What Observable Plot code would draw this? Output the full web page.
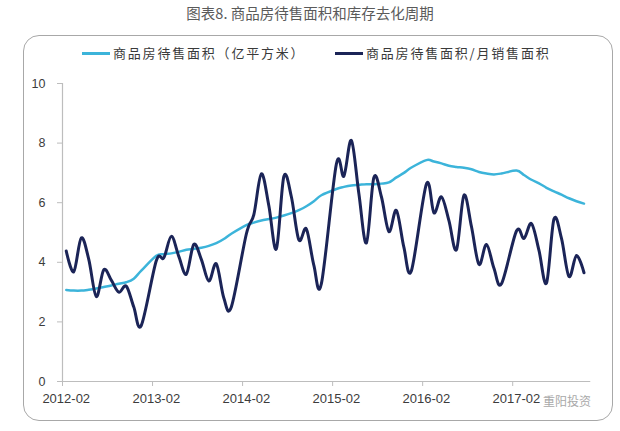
<!DOCTYPE html>
<html>
<head>
<meta charset="utf-8">
<script src="https://cdn.jsdelivr.net/npm/d3@7"></script>
<script src="https://cdn.jsdelivr.net/npm/@observablehq/plot@0.6"></script>
<style>
  body { margin: 0; background: #fff; }
  #wrap { position: relative; width: 620px; height: 431px; overflow: hidden; font-family: "Liberation Sans", Arial, sans-serif; }
  #title { position: absolute; left: 0; top: 4px; width: 620px; text-align: center; font-family: "Noto Sans CJK SC", sans-serif; font-size: 14.5px; color: #5a5a5a; line-height: 18px; }
  #box { position: absolute; left: 23px; top: 35px; width: 588px; height: 384px; border: 1px solid #a8a8a8; border-radius: 16px; }
  .leg { position: absolute; top: 44px; font-family: "Noto Sans CJK SC", sans-serif; font-size: 13px; color: #3a3a3a; letter-spacing: 1.8px; line-height: 18px; white-space: nowrap; }
  .leg .sw { display: inline-block; width: 28px; height: 3px; vertical-align: middle; margin-right: 3px; position: relative; top: -1px; }
  #chart { position: absolute; left: 0; top: 0; }
  #wm { position: absolute; left: 543px; top: 392px; font-family: "Noto Sans CJK SC", sans-serif; font-size: 12px; color: #9a9a9a; opacity: 0.85; }
</style>
</head>
<body>
<div id="wrap">
  <div id="title">图表8. 商品房待售面积和库存去化周期</div>
  <div id="box"></div>
  <div id="chart"></div>
  <div class="leg" style="left:82px"><span class="sw" style="background:#3cb4da"></span>商品房待售面积（亿平方米）</div>
  <div class="leg" style="left:335px"><span class="sw" style="background:#1b2457"></span>商品房待售面积/月销售面积</div>
  <div id="wm">重阳投资</div>
</div>
<script>
// Monthly categories (January merged into February by NBS, so no January points)
const months = [
  "2012-02","2012-03","2012-04","2012-05","2012-06","2012-07","2012-08","2012-09","2012-10","2012-11","2012-12",
  "2013-02","2013-03","2013-04","2013-05","2013-06","2013-07","2013-08","2013-09","2013-10","2013-11","2013-12",
  "2014-02","2014-03","2014-04","2014-05","2014-06","2014-07","2014-08","2014-09","2014-10","2014-11","2014-12",
  "2015-02","2015-03","2015-04","2015-05","2015-06","2015-07","2015-08","2015-09","2015-10","2015-11","2015-12",
  "2016-02","2016-03","2016-04","2016-05","2016-06","2016-07","2016-08","2016-09","2016-10","2016-11","2016-12",
  "2017-02","2017-03","2017-04","2017-05","2017-06","2017-07","2017-08","2017-09","2017-10","2017-11"
];
// 商品房待售面积（亿平方米）
const stock = [
  3.07, 3.05, 3.05, 3.08, 3.12, 3.17, 3.22, 3.28, 3.33, 3.45, 3.72,
  4.22, 4.27, 4.30, 4.35, 4.42, 4.45, 4.49, 4.55, 4.64, 4.78, 4.96,
  5.25, 5.33, 5.40, 5.45, 5.50, 5.57, 5.65, 5.75, 5.88, 6.05, 6.25,
  6.46, 6.53, 6.58, 6.60, 6.62, 6.62, 6.64, 6.68, 6.85, 7.00, 7.18,
  7.43, 7.38, 7.32, 7.24, 7.20, 7.17, 7.12, 7.03, 6.98, 6.95, 6.98,
  7.08, 6.93, 6.77, 6.65, 6.50, 6.38, 6.27, 6.15, 6.05, 5.97
];
// 商品房待售面积/月销售面积
const ratio = [
  4.38, 3.68, 4.82, 4.10, 2.85, 3.75, 3.40, 3.00, 3.20, 2.50, 1.88,
  4.05, 4.15, 4.87, 4.20, 3.60, 4.60, 4.10, 3.37, 3.95, 2.80, 2.50,
  4.95, 5.60, 6.97, 5.90, 4.45, 6.88, 6.20, 4.75, 5.12, 3.90, 3.28,
  7.30, 6.89, 8.09, 6.30, 4.65, 6.85, 6.20, 5.03, 5.74, 4.50, 3.72,
  6.63, 5.66, 6.20, 5.40, 4.42, 6.25, 5.20, 3.93, 4.60, 3.80, 3.28,
  5.05, 4.80, 5.30, 4.40, 3.30, 5.45, 4.80, 3.52, 4.23, 3.65
];
const tickLabels = ["2012-02","2013-02","2014-02","2015-02","2016-02","2017-02"];
const yTicks = [0, 2, 4, 6, 8, 10];

const idx = s => { const [y, m] = s.split("-").map(Number); return (y - 2012) * 12 + (m - 2); };
const rows = months.map((m, i) => ({t: idx(m), stock: stock[i], ratio: ratio[i]}));
const labelPos = tickLabels.map(idx);
const labelMap = new Map(labelPos.map((p, i) => [p, tickLabels[i]]));
const boundaries = labelPos.map(v => v - 0.5);

const axisColor = "#bdbdbd";
const textColor = "#3c3c3c";

const chart = Plot.plot({
  width: 620,
  height: 431,
  marginLeft: 62,
  marginRight: 32.75,
  marginTop: 83,
  marginBottom: 50,
  x: {domain: [-0.5, 69.5], axis: null},
  y: {domain: [0, 10], axis: null},
  style: {background: "transparent", fontFamily: "'Liberation Sans', Arial, sans-serif", overflow: "visible"},
  marks: [
    Plot.ruleY([0], {x1: -0.5, x2: 69.9, stroke: axisColor, strokeWidth: 1.2}),
    Plot.ruleX([-0.5], {y1: 0, y2: 10, stroke: axisColor, strokeWidth: 1.2}),
    Plot.axisY(yTicks, {anchor: "left", tickSize: 5, tickPadding: 12, stroke: axisColor, fill: textColor, fontSize: 12.5, label: null}),
    Plot.axisX(boundaries, {anchor: "bottom", tickSize: 5, tickFormat: () => "", stroke: axisColor, label: null}),
    Plot.axisX(labelPos, {anchor: "bottom", tickSize: 0, tickPadding: 12, tickFormat: d => labelMap.get(d), fill: textColor, fontSize: 13, label: null}),
    Plot.line(rows, {x: "t", y: "stock", stroke: "#3cb4da", strokeWidth: 2.5, curve: "cardinal", tension: 0}),
    Plot.line(rows, {x: "t", y: "ratio", stroke: "#1b2457", strokeWidth: 3, curve: "cardinal", tension: 0, strokeLinejoin: "round"})
  ]
});
document.getElementById("chart").appendChild(chart);
</script>
</body>
</html>
